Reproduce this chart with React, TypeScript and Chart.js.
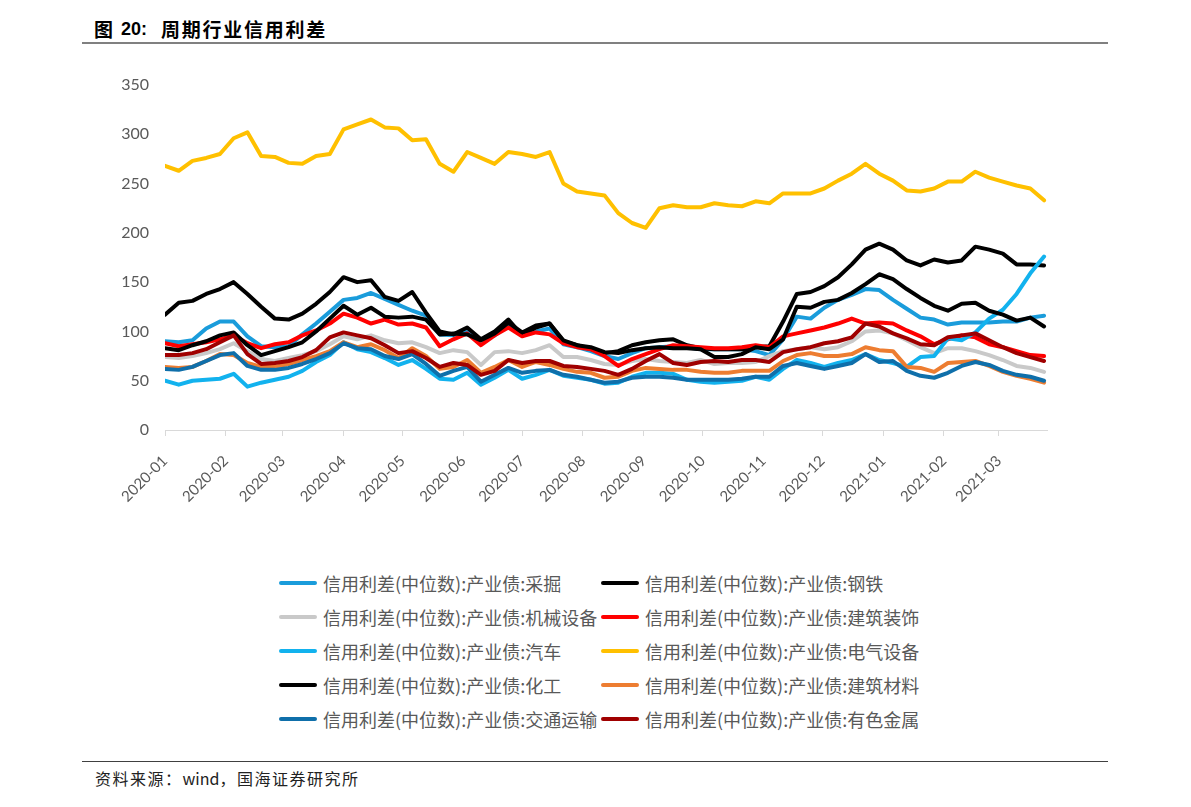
import React, { useEffect, useRef } from "react";
import { Chart, registerables } from "chart.js";

Chart.register(...registerables);

// days since 2020-01-01 (weekly samples)
const days = [
  0, 7, 14, 21, 28, 35, 42, 49, 56, 63, 70, 77, 84, 91, 98, 105, 112, 119, 126, 133,
  140, 147, 154, 161, 168, 175, 182, 189, 196, 203, 210, 217, 224, 231, 238, 245, 252, 259, 266, 273,
  280, 287, 294, 301, 308, 315, 322, 329, 336, 343, 350, 357, 364, 371, 378, 385, 392, 399, 406, 413,
  420, 427, 434, 441, 448,
];

const monthTicks = [0, 31, 60, 91, 121, 152, 182, 213, 244, 274, 305, 335, 366, 397, 425];
const monthLabels = [
  "2020-01", "2020-02", "2020-03", "2020-04", "2020-05", "2020-06", "2020-07", "2020-08",
  "2020-09", "2020-10", "2020-11", "2020-12", "2021-01", "2021-02", "2021-03",
];

const caijue = [
  90, 89, 91, 103, 110, 110, 95, 85, 84, 85, 97, 108, 120, 132, 134, 139, 133, 127, 121, 116,
  97, 96, 100, 91, 96, 106, 97, 100, 103, 87, 84, 80, 75, 72, 78, 83, 84, 85, 84, 82,
  82, 82, 82, 80, 76, 92, 115, 113, 124, 132, 137, 143, 142, 132, 123, 114, 112, 107, 109, 109,
  109, 110, 110, 114, 116,
];
const gangtie = [
  117, 129, 131, 138, 143, 150, 138, 125, 113, 112, 118, 128, 140, 155, 150, 152, 135, 131, 140, 119,
  100, 97, 104, 92, 100, 112, 96, 104, 108, 90, 86, 82, 78, 80, 86, 89, 91, 92, 86, 83,
  82, 82, 82, 84, 85, 110, 138, 140, 146, 155, 168, 183, 189, 183, 172, 167, 173, 170, 172, 186,
  183, 179, 168, 168, 167,
];
const jixie = [
  74, 73, 75, 78, 82, 88, 80, 72, 70, 73, 76, 80, 87, 95, 92, 96, 91, 88, 89, 84,
  78, 81, 79, 66, 79, 80, 78, 81, 86, 74, 74, 71, 67, 66, 70, 72, 70, 69, 68, 71,
  67, 68, 68, 69, 75, 80, 82, 84, 82, 84, 90, 100, 101, 98, 91, 84, 78, 83, 83, 80,
  76, 71, 65, 63, 59,
];
const jianzhuang = [
  88, 85, 87, 89, 92, 96, 88, 83, 87, 89, 96, 101, 108, 118, 114, 108, 112, 107, 108, 104,
  85, 92, 98, 86, 96, 104, 95, 99, 97, 88, 84, 82, 75, 65, 72, 77, 82, 86, 85, 84,
  83, 83, 84, 86, 84, 95, 98, 101, 104, 108, 113, 108, 109, 108, 101, 95, 87, 92, 96, 94,
  87, 84, 80, 76, 75,
];
const qiche = [
  50, 46, 50, 51, 52, 57, 44, 48, 51, 54, 60, 69, 76, 89, 82, 79, 73, 66, 71, 62,
  52, 51, 58, 46, 53, 61, 52, 56, 61, 55, 53, 51, 47, 48, 54, 58, 58, 57, 51, 49,
  48, 49, 50, 54, 51, 62, 71, 68, 64, 68, 71, 77, 71, 68, 64, 74, 75, 93, 91, 99,
  113, 122, 138, 159, 176,
];
const dianqi = [
  268, 263, 273, 276, 280, 296, 302, 278, 277, 271, 270, 278, 280, 305, 310, 315, 307, 306, 294, 295,
  270, 262, 282, 276, 270, 282, 280, 277, 282, 250, 242, 240, 238, 220, 210, 205, 225, 228, 226, 226,
  230, 228, 227, 232, 230, 240, 240, 240, 245, 253, 260, 270, 260, 253, 243, 242, 245, 252, 252, 262,
  256, 252, 248, 245, 233,
];
const huagong = [
  83, 81, 86, 90, 96, 99, 86, 76, 80, 84, 89, 100, 113, 126, 117, 124, 115, 114, 115, 112,
  97, 98, 97, 91, 98, 109, 99, 106, 108, 91, 86, 84, 79, 78, 81, 83, 84, 83, 83, 82,
  74, 74, 77, 84, 82, 92, 125, 124, 130, 132, 139, 148, 158, 153, 143, 134, 126, 121, 128, 129,
  121, 117, 111, 114, 105,
];
const jiancai = [
  64, 63, 64, 70, 77, 76, 68, 64, 64, 67, 71, 75, 80, 89, 84, 87, 81, 73, 83, 75,
  62, 64, 71, 58, 64, 71, 64, 69, 66, 62, 59, 58, 53, 54, 60, 63, 62, 61, 61, 59,
  58, 58, 60, 60, 60, 70, 76, 78, 75, 75, 77, 84, 81, 80, 64, 63, 59, 68, 69, 70,
  65, 59, 55, 52, 48,
];
const jiaotong = [
  62, 61, 64, 70, 76, 78, 65, 61, 61, 63, 67, 72, 78, 88, 83, 82, 75, 72, 77, 67,
  55, 60, 64, 49, 56, 63, 58, 60, 61, 56, 54, 51, 48, 49, 53, 54, 54, 53, 51, 51,
  51, 51, 52, 54, 54, 65, 68, 65, 62, 65, 68, 77, 69, 70, 60, 55, 53, 58, 65, 69,
  66, 60, 56, 54, 50,
];
const youse = [
  76, 76, 78, 82, 89, 96, 77, 67, 68, 70, 74, 81, 94, 99, 96, 93, 86, 78, 80, 73,
  64, 68, 66, 56, 60, 71, 68, 70, 70, 65, 64, 62, 60, 56, 62, 70, 77, 68, 66, 69,
  70, 69, 71, 71, 69, 79, 82, 84, 88, 90, 94, 108, 105, 98, 93, 87, 86, 94, 96, 98,
  91, 84, 78, 74, 70,
];

const seriesNames = [
  "信用利差(中位数):产业债:采掘",
  "信用利差(中位数):产业债:钢铁",
  "信用利差(中位数):产业债:机械设备",
  "信用利差(中位数):产业债:建筑装饰",
  "信用利差(中位数):产业债:汽车",
  "信用利差(中位数):产业债:电气设备",
  "信用利差(中位数):产业债:化工",
  "信用利差(中位数):产业债:建筑材料",
  "信用利差(中位数):产业债:交通运输",
  "信用利差(中位数):产业债:有色金属",
];
const seriesValues = [caijue, gangtie, jixie, jianzhuang, qiche, dianqi, huagong, jiancai, jiaotong, youse];
const seriesColors = [
  "#1A9CDB", "#000000", "#C9C9C9", "#FF0000", "#12B2EE",
  "#FFC000", "#000000", "#ED7D31", "#0F6FAA", "#A00000",
];

const legendRows = [583, 617, 651, 685, 719];

export default function App() {
  const ref = useRef<HTMLCanvasElement>(null);

  useEffect(() => {
    if (!ref.current) return;
    const n = seriesNames.length;
    const chart = new Chart(ref.current, {
      type: "line",
      data: {
        datasets: seriesNames.map((name, i) => ({
          label: name,
          data: days.map((d, j) => ({ x: d, y: seriesValues[i][j] })),
          borderColor: seriesColors[i],
          backgroundColor: seriesColors[i],
          borderWidth: 4,
          pointRadius: 0,
          tension: 0,
          borderJoinStyle: "round" as const,
          borderCapStyle: "round" as const,
          order: n - i,
        })),
      },
      options: {
        animation: false,
        responsive: false,
        events: [],
        layout: { padding: { left: 0, top: 85, right: 144, bottom: 0 } },
        plugins: { legend: { display: false }, tooltip: { enabled: false } },
        scales: {
          x: {
            type: "linear",
            min: 0,
            max: 449.5,
            afterBuildTicks: (s: any) => {
              s.ticks = monthTicks.map((v) => ({ value: v }));
            },
            afterFit: (s: any) => {
              s.height = 115;
            },
            grid: {
              display: true,
              drawOnChartArea: false,
              drawTicks: true,
              tickLength: 6,
              color: "#D9D9D9",
            },
            border: { display: true, color: "#D9D9D9", width: 1 },
            ticks: {
              autoSkip: false,
              minRotation: 45,
              maxRotation: 45,
              padding: 16,
              color: "#595959",
              font: { family: "Lato", size: 15 },
              callback: (_v: any, i: number) => monthLabels[i],
            },
          },
          y: {
            min: 0,
            max: 350,
            afterFit: (s: any) => {
              s.width = 165;
            },
            ticks: {
              stepSize: 50,
              padding: 16,
              color: "#595959",
              font: { family: "Lato", size: 16 },
            },
            grid: { display: false, drawTicks: false },
            border: { display: false },
          },
        },
      },
    });
    return () => chart.destroy();
  }, []);

  return (
    <div
      style={{
        position: "absolute",
        left: 0,
        top: 0,
        width: 1191,
        height: 807,
        background: "#ffffff",
        overflow: "hidden",
        fontFamily: "'Noto Sans CJK SC', sans-serif",
      }}
    >
      <span style={{ position: "absolute", left: 94, top: 17, fontSize: 19, fontWeight: 700, lineHeight: "24px", color: "#000" }}>图</span>
      <span style={{ position: "absolute", left: 121, top: 17, fontSize: 18, fontWeight: 700, lineHeight: "24px", color: "#000", fontFamily: "'Liberation Sans', Arial, sans-serif" }}>20:</span>
      <span style={{ position: "absolute", left: 161, top: 17, fontSize: 19, fontWeight: 700, lineHeight: "24px", color: "#000", letterSpacing: "1.75px", whiteSpace: "nowrap" }}>周期行业信用利差</span>
      <div style={{ position: "absolute", left: 82, top: 42, width: 1026, height: 2, background: "#808080" }} />

      <canvas
        ref={ref}
        width={1191}
        height={545}
        style={{ position: "absolute", left: 0, top: 0, width: 1191, height: 545 }}
      />

      {seriesNames.map((name, i) => {
        const col = i % 2;
        const rowY = legendRows[Math.floor(i / 2)];
        const lineLeft = col === 0 ? 279 : 601;
        const textLeft = col === 0 ? 323 : 645;
        return (
          <React.Fragment key={name}>
            <div
              style={{
                position: "absolute",
                left: lineLeft,
                top: rowY - 2,
                width: 38,
                height: 4,
                borderRadius: 2,
                background: seriesColors[i],
              }}
            />
            <span
              style={{
                position: "absolute",
                left: textLeft,
                top: rowY - 13,
                fontSize: 18,
                lineHeight: "26px",
                color: "#595959",
                whiteSpace: "nowrap",
              }}
            >
              {name}
            </span>
          </React.Fragment>
        );
      })}

      <div style={{ position: "absolute", left: 82, top: 761, width: 1026, height: 1, background: "#404040" }} />
      <span
        style={{
          position: "absolute",
          left: 95,
          top: 767,
          fontSize: 16,
          lineHeight: "22px",
          color: "#222",
          whiteSpace: "nowrap",
        }}
      >
        <span style={{ letterSpacing: "1.5px" }}>资料来源：</span>
        <span>wind</span>
        <span style={{ letterSpacing: "1.5px" }}>，国海证券研究所</span>
      </span>
    </div>
  );
}
